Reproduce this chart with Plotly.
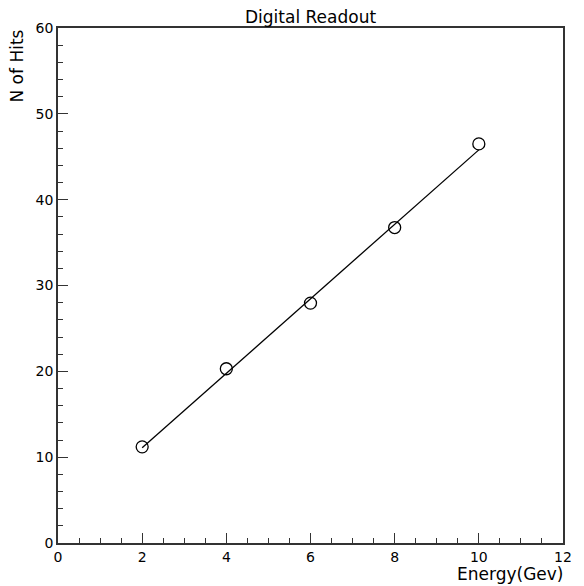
import plotly.graph_objects as go

energy = [2, 4, 6, 8, 10]
hits = [11.2, 20.3, 27.95, 36.75, 46.5]
fit_x = [2, 10]
fit_y = [11.1, 45.8]

title_text = "Digital Readout"
x_title = "Energy(Gev)"
y_title = "N of Hits"

FONT = "DejaVu Sans"

fig = go.Figure()
fig.add_trace(go.Scatter(x=fit_x, y=fit_y, mode="lines",
                         line=dict(color="black", width=1.3), showlegend=False))
fig.add_trace(go.Scatter(x=energy, y=hits, mode="markers",
                         marker=dict(symbol="circle-open", size=12,
                                     line=dict(color="black", width=1.3), color="black"),
                         showlegend=False))

axis_common = dict(showgrid=False, zeroline=False, showline=True, mirror=True,
                   linecolor="#333", linewidth=1.5, ticks="inside", ticklen=10,
                   tickcolor="#333", tickwidth=1.3,
                   tickfont=dict(family=FONT, size=14, color="black"))

fig.update_xaxes(range=[0, 12], tick0=0, dtick=2,
                 minor=dict(dtick=0.5, ticklen=5, ticks="inside", tickcolor="#333", tickwidth=1.3),
                 **axis_common)
fig.update_yaxes(range=[0, 60], tick0=0, dtick=10,
                 minor=dict(dtick=2, ticklen=5, ticks="inside", tickcolor="#333", tickwidth=1.3),
                 **axis_common)

fig.update_layout(
    width=584, height=586,
    margin=dict(l=58, r=12, t=28, b=43),
    plot_bgcolor="white", paper_bgcolor="white",
    annotations=[
        dict(text=title_text, xref="paper", yref="paper", x=0.5, y=1,
             xanchor="center", yanchor="bottom", showarrow=False, yshift=-1,
             font=dict(family=FONT, size=17, color="black")),
        dict(text=x_title, xref="paper", yref="paper", x=1, y=0,
             xanchor="right", yanchor="top", showarrow=False, yshift=-19, xshift=2,
             font=dict(family=FONT, size=17, color="black")),
        dict(text=y_title, xref="paper", yref="paper", x=0, y=1,
             xanchor="right", yanchor="top", showarrow=False, xshift=-30, textangle=-90,
             font=dict(family=FONT, size=17, color="black")),
    ],
)

fig.write_html("out.html")
